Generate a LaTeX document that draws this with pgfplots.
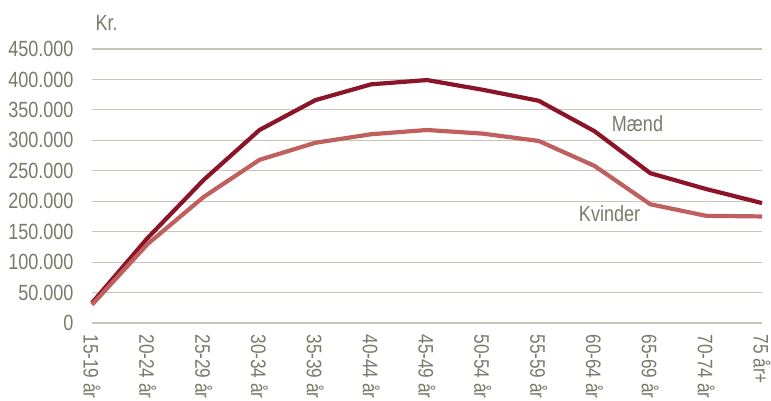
\documentclass[border=0pt]{standalone}
\usepackage{fontspec}
\setmainfont{Liberation Sans}[FakeStretch=0.82]
\usepackage{pgfplots}
\pgfplotsset{compat=1.18}
\definecolor{txt}{HTML}{7A7A6A}
\definecolor{gridc}{HTML}{C6C5B8}
\definecolor{maend}{HTML}{8C1428}
\definecolor{kvinder}{HTML}{C0605E}
\pgfplotstableread{
x maend kvinder
0 33000 30000
1 140000 130000
2 235000 207000
3 317000 268000
4 366000 296000
5 392000 310000
6 399000 317000
7 383000 311000
8 365000 299000
9 315000 258000
10 246000 195000
11 220000 176000
12 197000 175000
}\data
\begin{document}
\begin{tikzpicture}[x=1pt,y=1pt]
\path[use as bounding box] (-92,-78) rectangle (679,323);
\begin{axis}[
  at={(0,0)}, anchor=south west,
  scale only axis, width=670pt, height=274pt,
  xmin=0, xmax=12, ymin=0, ymax=450000,
  ytick={0,50000,100000,150000,200000,250000,300000,350000,400000,450000},
  scaled y ticks=false,
  yticklabel={\pgfmathprintnumber[fixed,1000 sep={.}]{\tick}},
  /pgf/number format/assume math mode=true,
  xtick={0,...,12},
  xticklabels={15-19 år,20-24 år,25-29 år,30-34 år,35-39 år,40-44 år,45-49 år,50-54 år,55-59 år,60-64 år,65-69 år,70-74 år,75 år+},
  ticklabel style={font=\fontsize{22}{24}\selectfont, text=txt},
  xticklabel style={rotate=-90, anchor=west, xshift=8pt, yshift=0pt, font=\fontsize{21}{24}\selectfont},
  yticklabel style={anchor=east, xshift=-15pt},
  major tick length=0pt,
  ymajorgrids, grid style={draw=gridc, line width=1.2pt},
  axis line style={draw=none},
  clip=false,
]
\addplot[maend, line width=4.2pt, line join=round] table[x=x,y=maend]{\data};
\addplot[kvinder, line width=4.2pt, line join=round] table[x=x,y=kvinder]{\data};
\node[text=txt, font=\fontsize{22}{24}\selectfont] at (axis cs:9.77,328000) {Mænd};
\node[text=txt, font=\fontsize{22}{24}\selectfont] at (axis cs:9.27,180000) {Kvinder};
\node[text=txt, font=\fontsize{22}{24}\selectfont, anchor=west] at (axis cs:0,492000) {Kr.};
\end{axis}
\end{tikzpicture}
\end{document}
